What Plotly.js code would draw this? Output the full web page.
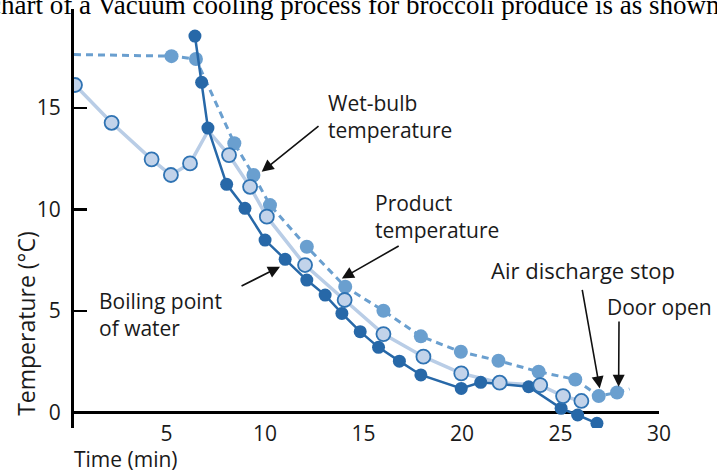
<!DOCTYPE html>
<html>
<head>
<meta charset="utf-8">
<script src="https://cdn.plot.ly/plotly-3.0.1.min.js"></script>
<style>
  html, body { margin: 0; padding: 0; background: #ffffff; }
  #chart { width: 717px; height: 473px; }
</style>
</head>
<body>
<div id="chart"></div>
<script>
// ---- Data (time in minutes, temperature in °C) ----
const boilingTime = [6.44, 6.78, 7.10, 8.05, 8.98, 10.0, 11.02, 12.12, 13.05, 13.90, 14.83, 15.76, 16.82, 17.91, 19.96, 20.95, 23.38, 25.03, 25.87, 26.85];
const boilingTemp = [18.53, 16.25, 14.0, 11.23, 10.05, 8.49, 7.54, 6.52, 5.78, 4.88, 3.98, 3.21, 2.53, 1.85, 1.19, 1.49, 1.27, 0.21, -0.12, -0.53];

const productTime = [0.35, 2.21, 4.24, 5.22, 6.19, 7.11, 8.17, 9.24, 10.09, 12.03, 14.04, 16.01, 18.04, 19.96, 21.91, 23.97, 25.13, 26.06];
const productTemp = [16.12, 14.26, 12.46, 11.69, 12.26, 13.87, 12.67, 11.11, 9.64, 7.26, 5.54, 3.86, 2.75, 1.93, 1.47, 1.35, 0.81, 0.57];
const productShown = [1, 1, 1, 1, 1, 0, 1, 1, 1, 1, 1, 1, 1, 1, 1, 1, 1, 1];

const wetBulbTime = [0.3, 5.25, 6.49, 8.44, 9.41, 10.25, 12.12, 14.07, 16.01, 17.91, 19.94, 21.85, 23.89, 25.75, 26.94, 27.87, 28.5];
const wetBulbTemp = [17.62, 17.54, 17.40, 13.25, 11.69, 10.21, 8.16, 6.19, 5.01, 3.75, 2.99, 2.55, 2.01, 1.63, 0.81, 0.99, 1.16];
const wetBulbShown = [0, 1, 1, 1, 1, 1, 1, 1, 1, 1, 1, 1, 1, 1, 1, 1, 0];

const xTickVals = [5, 10, 15, 20, 25, 30];
const xTickText = ['5', '10', '15', '20', '25', '30'];
const yTickVals = [0, 5, 10, 15];
const yTickText = ['0', '5', '10', '15'];

// ---- Styles ----
const DARK = '#2768a8';
const MID = '#6a9fcf';
const LIGHT_FILL = '#c2d3ea';
const LIGHT_LINE = '#b9cde6';
const OUTLINE = '#2f73b3';
const FONT = 'Open Sans, Noto Sans, sans-serif';
const TXT = '#1a1a1a';

const traces = [
  {
    x: wetBulbTime, y: wetBulbTemp, mode: 'lines', type: 'scatter',
    line: { color: MID, width: 3, dash: '7px,5px' },
    hoverinfo: 'skip'
  },
  {
    x: wetBulbTime, y: wetBulbTemp, mode: 'markers', type: 'scatter',
    marker: { color: MID, size: 14, opacity: wetBulbShown, line: { width: 0 } },
    hoverinfo: 'skip'
  },
  {
    x: productTime, y: productTemp, mode: 'lines', type: 'scatter',
    line: { color: LIGHT_LINE, width: 3.5 },
    hoverinfo: 'skip'
  },
  {
    x: boilingTime, y: boilingTemp, mode: 'lines+markers', type: 'scatter',
    line: { color: DARK, width: 2.5 },
    marker: { color: DARK, size: 13 },
    hoverinfo: 'skip'
  },
  {
    x: productTime, y: productTemp, mode: 'markers', type: 'scatter',
    marker: { color: LIGHT_FILL, size: 14, opacity: productShown,
              line: { color: OUTLINE, width: 1.8 } },
    hoverinfo: 'skip'
  }
];

function label(text, x, y, size) {
  return { text: text, x: x, y: y, xref: 'x', yref: 'y', xanchor: 'left', yanchor: 'middle',
           align: 'left', showarrow: false, font: { family: FONT, size: size, color: TXT } };
}
function arrow(hx, hy, tx, ty) {
  return { text: '', x: hx, y: hy, ax: tx, ay: ty, xref: 'x', yref: 'y', axref: 'x', ayref: 'y',
           showarrow: true, arrowhead: 2, arrowsize: 1.5, arrowwidth: 1.6, arrowcolor: '#111', standoff: 0 };
}

const annotations = [
  label('Wet-bulb<br>temperature', 13.1, 14.59, 21),
  arrow(9.83, 11.85, 12.79, 14.15),
  label('Product<br>temperature', 15.49, 9.65, 21),
  arrow(13.9, 6.6, 16.86, 8.24),
  label('Boiling point<br>of water', 1.45, 4.85, 21),
  arrow(10.76, 7.18, 8.73, 6.19),
  label('Air discharge stop', 21.38, 7.01, 22),
  arrow(26.99, 1.19, 26.09, 6.11),
  label('Door open', 27.25, 5.21, 21),
  arrow(27.95, 1.27, 27.97, 4.55),
  { text: 'Temperature (°C)', xref: 'paper', yref: 'paper', x: -0.081, y: 0.25,
    xanchor: 'center', yanchor: 'middle', textangle: -90, showarrow: false,
    font: { family: FONT, size: 23, color: TXT } },
  { text: 'Time (min)', xref: 'paper', yref: 'paper', x: -0.003, y: -0.073,
    xanchor: 'left', yanchor: 'middle', showarrow: false,
    font: { family: FONT, size: 21, color: TXT } },
  { text: 'chart of a Vacuum cooling process for broccoli produce is as shown', xref: 'paper', yref: 'paper',
    x: -0.148, y: 0.970, xanchor: 'left', yanchor: 'bottom', showarrow: false,
    font: { family: 'Liberation Serif, DejaVu Serif, serif', size: 27, color: '#000' } }
];

const layout = {
  width: 717, height: 473,
  margin: { l: 74, r: 58, t: 9, b: 45, pad: 0 },
  paper_bgcolor: '#ffffff', plot_bgcolor: '#ffffff',
  showlegend: false,
  font: { family: FONT, size: 20, color: TXT },
  xaxis: {
    range: [0.3, 30], showgrid: false, zeroline: false, showline: false,
    tickmode: 'array', tickvals: xTickVals, ticktext: xTickText, ticks: '',
    ticklabelstandoff: -9, tickfont: { family: FONT, size: 21, color: TXT }
  },
  yaxis: {
    range: [-0.76, 19.86], showgrid: false,
    zeroline: true, zerolinecolor: '#000', zerolinewidth: 3,
    showline: true, linecolor: '#000', linewidth: 3,
    tickmode: 'array', tickvals: yTickVals, ticktext: yTickText,
    ticks: 'inside', ticklen: 13, tickwidth: 2.5, tickcolor: '#000',
    ticklabelstandoff: 6, tickfont: { family: FONT, size: 21, color: TXT }
  },
  annotations: annotations
};

Plotly.newPlot('chart', traces, layout, { staticPlot: true, displayModeBar: false });
</script>
</body>
</html>
